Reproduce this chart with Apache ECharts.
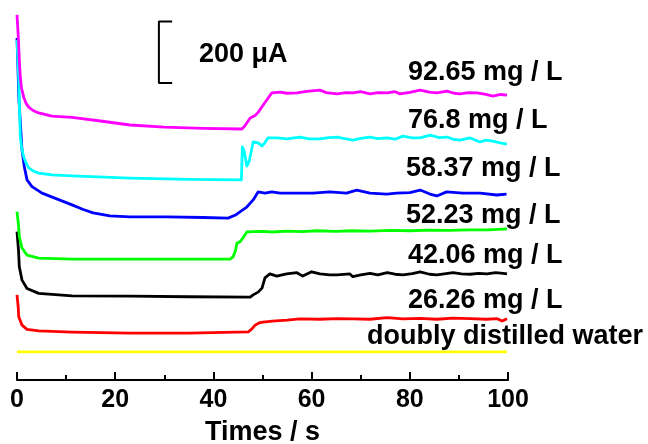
<!DOCTYPE html>
<html>
<head>
<meta charset="utf-8">
<script src="https://cdn.jsdelivr.net/npm/echarts@6/dist/echarts.min.js"></script>
<style>html,body{margin:0;padding:0;background:#fff}#c{width:648px;height:444px}</style>
</head>
<body>
<div id="c"></div>
<script>
// x: time (s), y: current (µA, curves offset for display)
const xTicks = [0, 20, 40, 60, 80, 100];
const labels = ['92.65 mg / L', '76.8 mg / L', '58.37 mg / L', '52.23 mg / L', '42.06 mg / L', '26.26 mg / L', 'doubly distilled water'];
const scaleBarText = '200 \u03bcA';

const magenta = [[0,1184],[0.3,1103],[0.47,1038],[0.67,982],[0.92,947],[1.36,918],[1.83,898],[2.38,885],[3.26,874],[4.42,866],[7.1,856],[11.2,852],[17,840],[23,827],[30,820],[38,816],[45.8,814],[46.3,822],[47.5,850],[48.5,858],[49.1,868],[50.5,900],[51.9,931],[53.6,934],[55,930],[57,931],[59,936],[61.7,940],[63,932],[65.2,928],[67,932],[68.4,931],[70,935],[71.9,928],[73.5,932],[75.4,931],[77,935],[78,928],[80,933],[82.1,940],[84,934],[85.5,931],[87.6,937],[89,930],[90.2,928],[92,932],[93.7,931],[95.5,926],[96.9,921],[98.5,926],[99.8,924]];
const cyan = [[0,1103],[0.37,973],[0.51,876],[0.67,789],[0.96,752],[1.36,724],[1.83,704],[2.38,688],[3.3,678],[4.42,671],[7.1,665],[11.2,662],[23,655],[35,651],[45.7,649],[45.9,756],[46.3,740],[46.8,694],[47.3,710],[48.1,772],[49.1,769],[49.9,759],[50.5,770],[51.1,785],[53,785],[55,782],[57.6,788],[59.5,782],[61.7,782],[63.5,786],[65.2,788],[67,782],[68.4,778],[70,784],[71.9,788],[73.5,783],[75.4,785],[77,781],[78.6,791],[80.5,785],[82.1,785],[84.1,794],[86,786],[87.6,788],[89,780],[90.2,778],[92.3,785],[94.3,772],[95.5,778],[96.9,775],[98.4,769],[99.8,765]];
const blue = [[0,1109],[0.4,908],[1.02,746],[1.5,691],[2.04,649],[3.05,627],[5.1,606],[7.7,590],[11.2,568],[13.5,553],[15.5,542],[18.9,532],[23,529],[30.5,529],[38,527],[43,525],[44.5,535],[45.4,545],[46.8,561],[48.1,584],[49.1,610],[50.5,606],[51.9,610],[53.6,606],[57,606],[60.3,606],[63.7,610],[67.1,606],[69.2,616],[71.9,606],[75.3,603],[77.3,606],[80,608],[82.1,616],[84.1,603],[85.5,597],[87.5,610],[90.8,606],[94.3,606],[97.7,600],[99.7,603]];
const green = [[0,546],[0.3,503],[0.47,465],[1.02,428],[2.04,405],[4.42,395],[11.2,392],[23,392],[43.4,392],[44,399],[44.5,420],[44.8,444],[45.4,448],[46,460],[46.8,480],[48,481],[50,482],[52,480],[55,483],[58,481],[61,484],[65,482],[68,484],[72,483],[76,485],[80,484],[84,486],[88,485],[92,487],[96,487],[99.8,490]];
const black = [[0,481],[0.3,422],[0.47,367],[1.02,324],[2.04,297],[4.42,281],[11.2,273],[23,272],[35,270],[47.5,269],[48.1,276],[48.5,276],[49.1,285],[49.9,298],[50.5,331],[51.5,344],[52.9,337],[54.9,344],[57,348],[58.2,337],[60,351],[61.7,344],[63.7,341],[65.2,341],[67.8,344],[68.4,335],[70,341],[71.9,346],[73.5,341],[75.4,348],[77,343],[78.6,341],[80.5,345],[82.1,351],[84,343],[85.5,341],[87,344],[88.8,348],[90.5,344],[92.3,343],[94,346],[95.7,344],[97.5,348],[99,346],[99.8,344]];
const red = [[0,276],[0.26,234],[0.35,205],[1.02,178],[2.04,164],[4.42,159],[11.2,155],[23,152],[35,152],[47.1,156],[47.8,165],[48.5,178],[49.3,185],[50.1,188],[52,191],[55,194],[57.6,198],[61.7,197],[65.2,199],[68.4,198],[71.9,197],[75.4,202],[78.6,198],[82.1,200],[85.5,197],[88.8,201],[92.3,199],[95.7,197],[97.8,199],[98.8,191],[99.8,199]];
const yellow = [[0,91],[99.8,91]];

const seriesData = [magenta, cyan, blue, green, black, red, yellow];
const colors = ['#ff00ff', '#00ffff', '#0000ff', '#00ff00', '#000000', '#ff0000', '#ffff00'];

const FONT = 'Liberation Sans, Arial, sans-serif';
const chart = echarts.init(document.getElementById('c'), null, {renderer: 'canvas'});

const series = seriesData.map((d, i) => ({
  type: 'line', data: d, showSymbol: false, symbol: 'none', smooth: false,
  lineStyle: {color: colors[i], width: 2.8, join: 'round'}, z: 10 - i, animation: false
}));
// scale bar bracket: 200 µA tall
const barX0 = 28.9, barX1 = 31.6, barY0 = 963, barLen = 200;
series.push({
  type: 'line', symbol: 'none', animation: false,
  data: [[barX1, barY0 + barLen], [barX0, barY0 + barLen], [barX0, barY0], [barX1, barY0]],
  lineStyle: {color: '#000', width: 2}
});

const labelPos = [[408,74],[408,122],[406,170],[406,217],[408,257],[408,302],[367,338]];
const graphics = labels.map((t, i) => ({
  type: 'text', left: labelPos[i][0], top: labelPos[i][1] - 15,
  style: {text: t, font: 'bold 27px ' + FONT, fill: '#000'}
}));
graphics.push({type: 'text', left: 199, top: 56 - 15, style: {text: scaleBarText, font: 'bold 27px ' + FONT, fill: '#000'}});

chart.setOption({
  animation: false,
  backgroundColor: '#fff',
  grid: {left: 17, right: 140, top: 10, bottom: 64, outerBoundsMode: 'none', containLabel: false},
  xAxis: {
    type: 'value', min: 0, max: 100, interval: 20,
    name: 'Times / s', nameLocation: 'middle', nameGap: 39,
    nameTextStyle: {fontFamily: FONT, fontWeight: 'bold', fontSize: 27, color: '#000'},
    axisLine: {show: true, onZero: false, lineStyle: {color: '#000', width: 2}},
    axisTick: {show: true, inside: true, length: 8, lineStyle: {color: '#000', width: 2}},
    minorTick: {show: true, splitNumber: 2, length: 5, lineStyle: {color: '#000', width: 2}},
    axisLabel: {margin: 8, fontFamily: FONT, fontWeight: 'bold', fontSize: 25, color: '#000',
      formatter: v => xTicks.includes(v) ? String(v) : ''},
    splitLine: {show: false}
  },
  yAxis: {type: 'value', min: 0, max: 1200, show: false},
  series: series,
  graphic: graphics
});
</script>
</body>
</html>
